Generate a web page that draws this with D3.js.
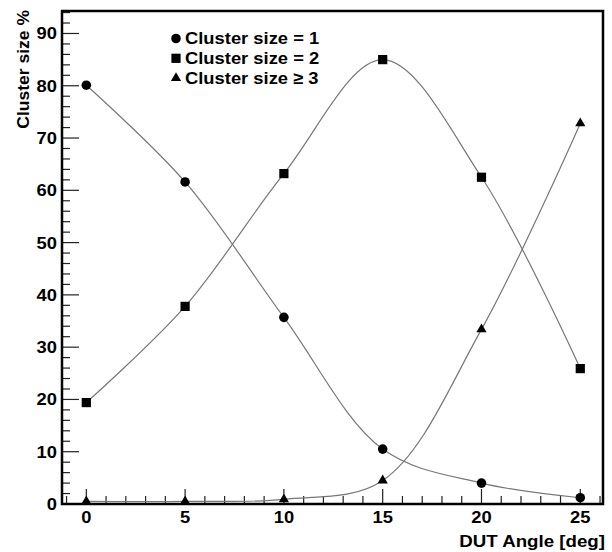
<!DOCTYPE html>
<html>
<head>
<meta charset="utf-8">
<script src="https://cdn.jsdelivr.net/npm/d3@7"></script>
<style>
  body { margin: 0; background: #fff; }
  text { font-family: "Liberation Sans", Arial, sans-serif; font-weight: bold; font-size: 17px; }
</style>
</head>
<body>
<div class="graphic"></div>
<script>
// data
const angles = [0, 5, 10, 15, 20, 25];
const size1 = [80.1, 61.6, 35.7, 10.5, 4.0, 1.2];
const size2 = [19.4, 37.8, 63.2, 85.0, 62.5, 25.9];
const size3 = [0.5, 0.5, 0.9, 4.5, 33.4, 72.8];
const labels = ["Cluster size = 1", "Cluster size = 2", "Cluster size \u2265 3"];
const symbols = [d3.symbolCircle, d3.symbolSquare, d3.symbolTriangle];
const symbolSizes = [72, 85, 45];

const W = 612, H = 552;
const padL = 62, padR = 603, padT = 11, padB = 504;
const stretch = 1.08; // the original lettering is a bit wide

var svg = d3.select(".graphic")
  .append("svg")
  .attr("width", W)
  .attr("height", H);

var x = d3.scaleLinear().domain([-1.23, 26.15]).range([padL, padR]);
var y = d3.scaleLinear().domain([0, 94.3]).range([padB, padT]);

function place(tx, ty, sx) {
  return "translate(" + tx + "," + ty + ") scale(" + (sx || stretch) + ",1)";
}

// x ticks (inward)
svg.selectAll("line.xt")
  .data(d3.range(-1, 27))
  .enter()
  .append("line")
  .attr("x1", d => x(d)).attr("x2", d => x(d))
  .attr("y1", padB)
  .attr("y2", d => padB - (d % 5 === 0 ? 15 : 8))
  .style("stroke", "#222")
  .style("stroke-width", 1.2);

svg.selectAll("text.xl")
  .data(d3.range(0, 26, 5))
  .enter()
  .append("text")
  .attr("transform", d => place(x(d), 523))
  .attr("text-anchor", "middle")
  .text(d => d);

// y ticks (inward)
svg.selectAll("line.yt")
  .data(d3.range(0, 95, 2))
  .enter()
  .append("line")
  .attr("x1", padL)
  .attr("x2", d => padL + (d % 10 === 0 ? 17 : 8))
  .attr("y1", d => y(d)).attr("y2", d => y(d))
  .style("stroke", "#222")
  .style("stroke-width", 1.2);

svg.selectAll("text.yl")
  .data(d3.range(0, 91, 10))
  .enter()
  .append("text")
  .attr("transform", d => place(57, y(d) + 6))
  .attr("text-anchor", "end")
  .text(d => d);

// frame
svg.append("rect")
  .attr("x", padL).attr("y", padT)
  .attr("width", padR - padL).attr("height", padB - padT)
  .style("fill", "none")
  .style("stroke", "#000")
  .style("stroke-width", 2.5);

// axis titles
svg.append("text")
  .attr("transform", place(padR + 2, 547, 1.1))
  .attr("text-anchor", "end")
  .text("DUT Angle [deg]");

svg.append("text")
  .attr("transform", "translate(28.5,10) rotate(-90) scale(1.03,1)")
  .attr("text-anchor", "end")
  .text("Cluster size %");

// curves + markers
var series = [size1, size2, size3];
var line = d3.line()
  .x((d, i) => x(angles[i]))
  .y(d => y(d))
  .curve(d3.curveCatmullRom.alpha(0.5));

series.forEach((vals, s) => {
  svg.append("path")
    .attr("d", line(vals))
    .style("fill", "none")
    .style("stroke", "#777")
    .style("stroke-width", 1.2);

  svg.selectAll("path.m" + s)
    .data(vals)
    .enter()
    .append("path")
    .attr("class", "m" + s)
    .attr("d", d3.symbol().type(symbols[s]).size(symbolSizes[s]))
    .attr("transform", (d, i) => "translate(" + x(angles[i]) + "," + y(d) + ")")
    .style("fill", "#000");
});

// legend
labels.forEach((t, i) => {
  var ly = 38.5 + i * 19.8;
  svg.append("path")
    .attr("d", d3.symbol().type(symbols[i]).size(symbolSizes[i]))
    .attr("transform", "translate(176," + ly + ")")
    .style("fill", "#000");
  svg.append("text")
    .attr("transform", place(185, ly + 5.5))
    .text(t);
});
</script>
</body>
</html>
